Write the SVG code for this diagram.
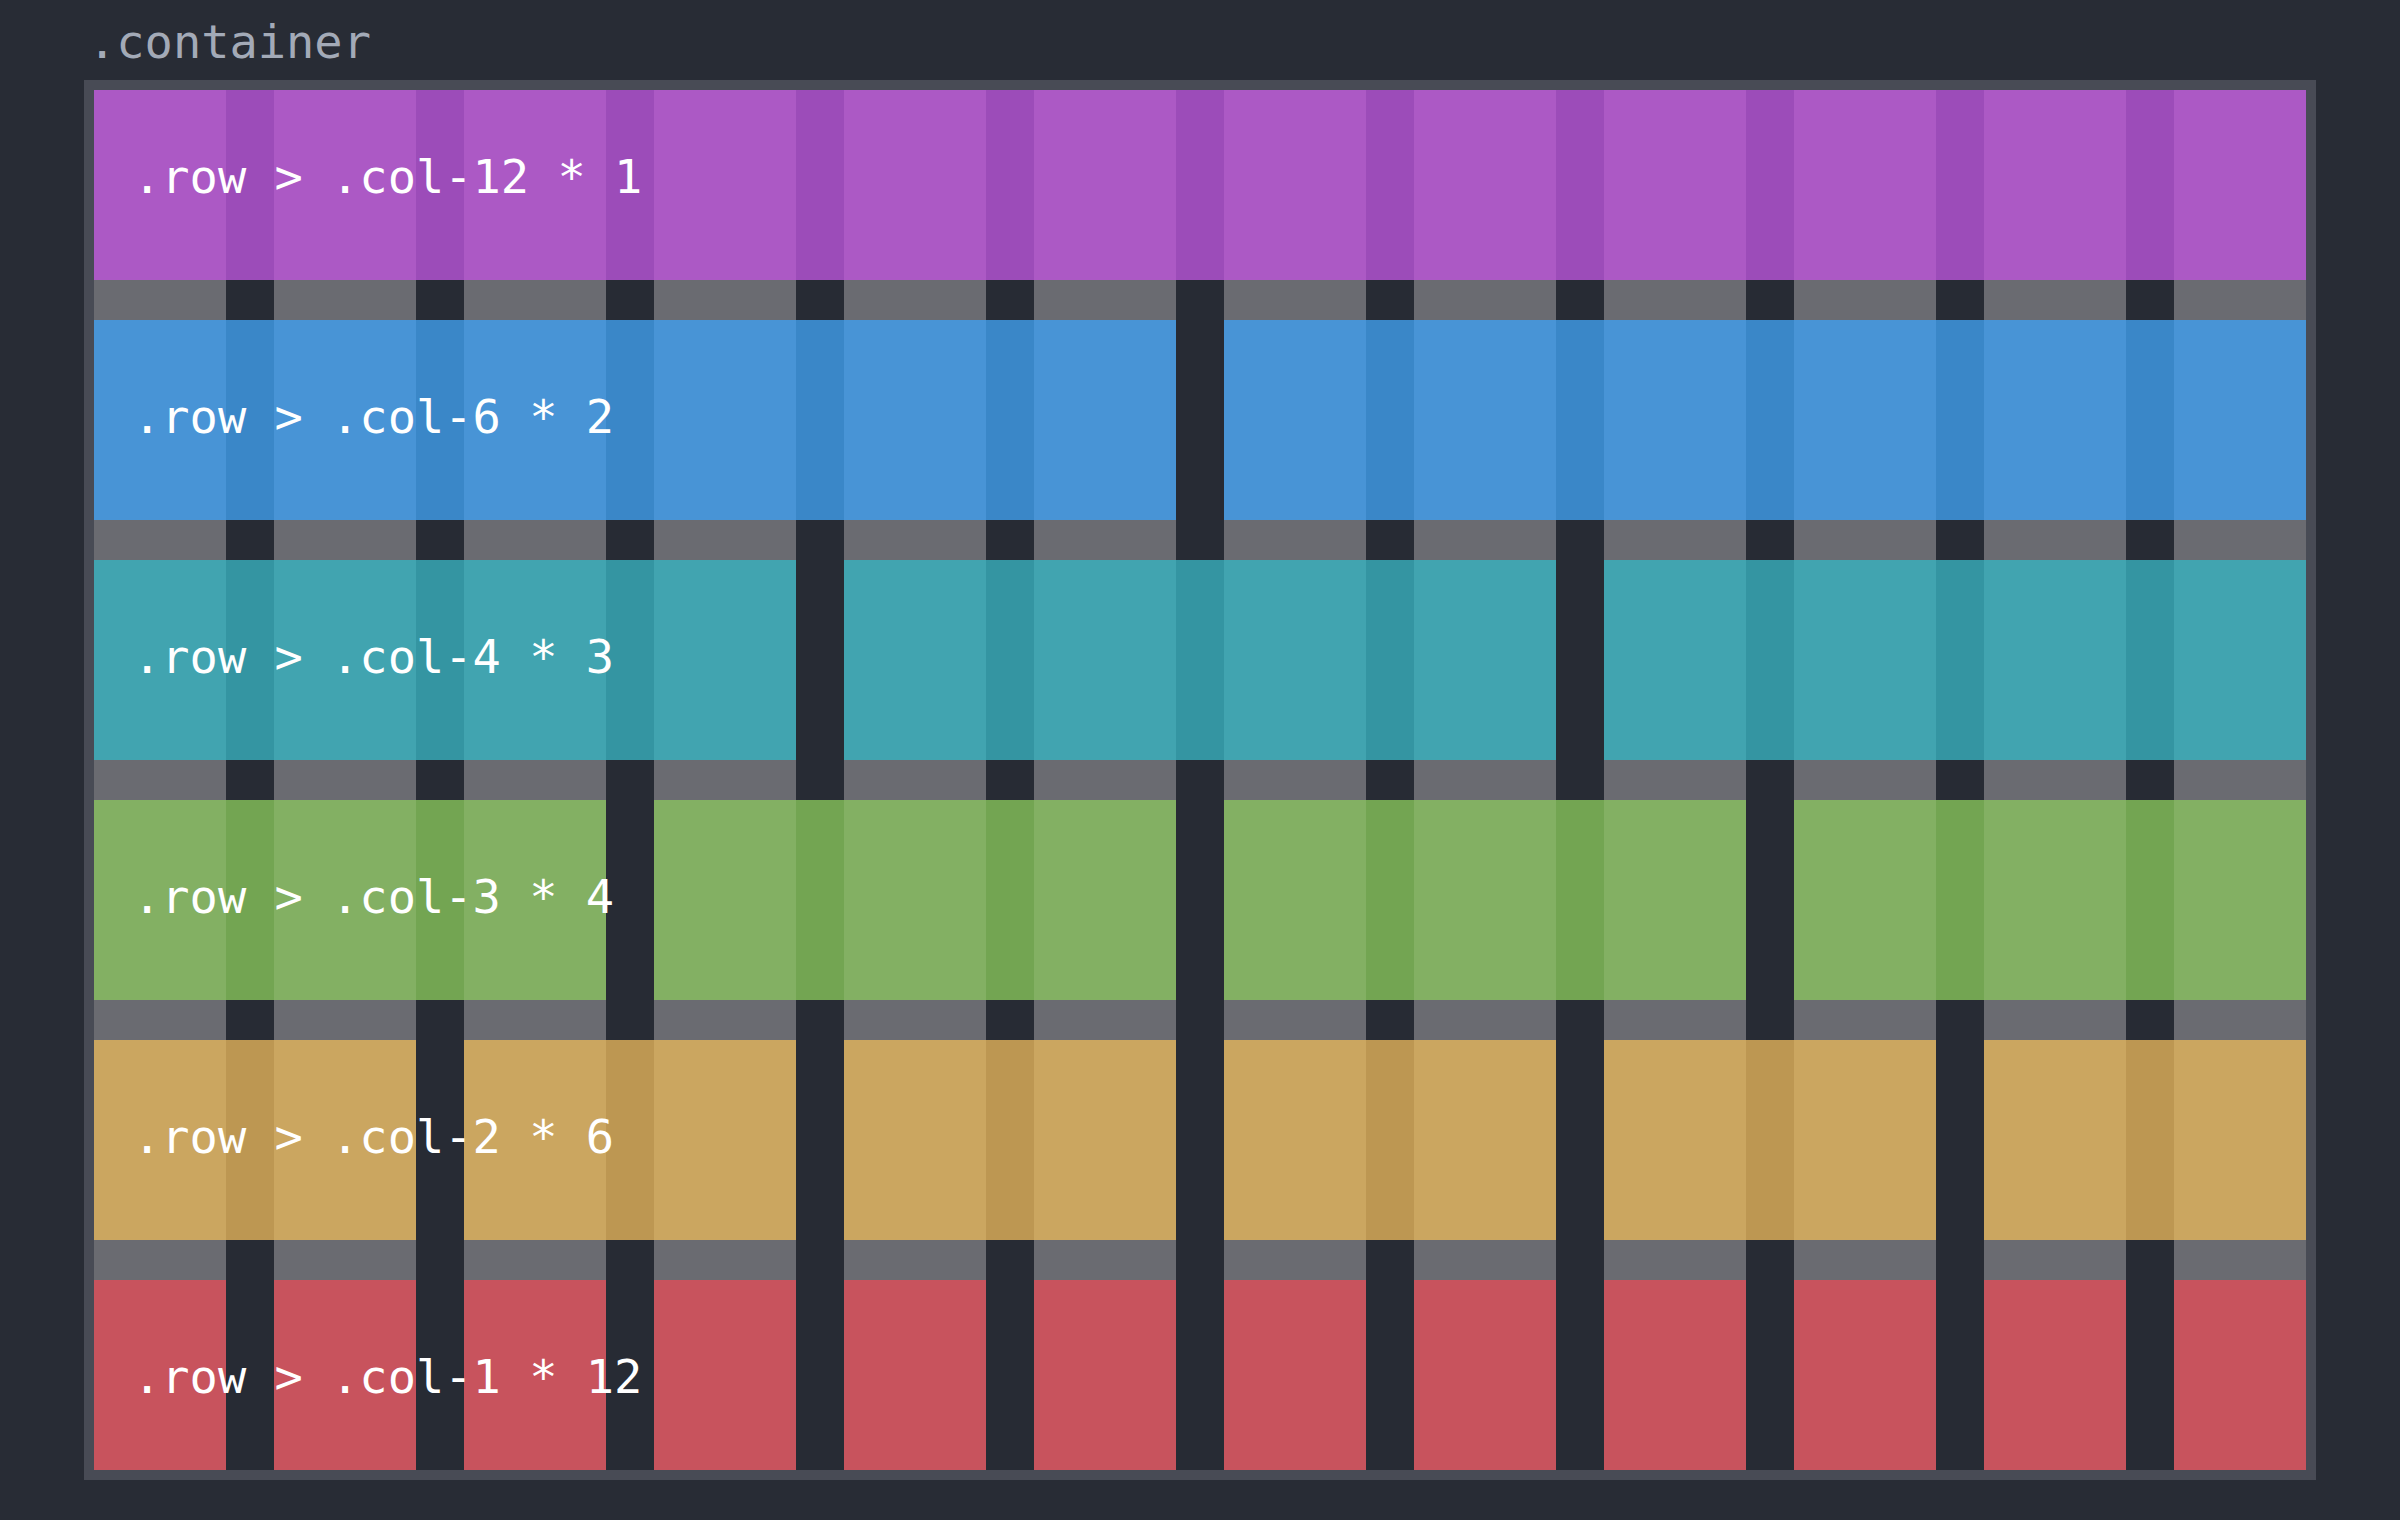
<svg xmlns="http://www.w3.org/2000/svg" width="2400" height="1520" viewBox="0 0 2400 1520">
<style>
.lbl{font-family:"DejaVu Sans Mono","Liberation Mono",monospace;font-size:47px;fill:#ffffff}
.title{font-family:"DejaVu Sans Mono","Liberation Mono",monospace;font-size:47px;fill:#a3aab7}
.gut{fill:#272b34}
.r1{fill:#ac59c5}.r2{fill:#4894d6}.r3{fill:#41a4b0}.r4{fill:#83b063}.r5{fill:#cba660}.r6{fill:#c8535d}
</style>
<defs>
<pattern id="p1" patternUnits="userSpaceOnUse" x="226" y="0" width="190" height="10"><rect width="48" height="10" fill="#9c4cb9"/></pattern>
<pattern id="p2" patternUnits="userSpaceOnUse" x="226" y="0" width="190" height="10"><rect width="48" height="10" fill="#3a87c8"/></pattern>
<pattern id="p3" patternUnits="userSpaceOnUse" x="226" y="0" width="190" height="10"><rect width="48" height="10" fill="#3495a2"/></pattern>
<pattern id="p4" patternUnits="userSpaceOnUse" x="226" y="0" width="190" height="10"><rect width="48" height="10" fill="#73a552"/></pattern>
<pattern id="p5" patternUnits="userSpaceOnUse" x="226" y="0" width="190" height="10"><rect width="48" height="10" fill="#bd9752"/></pattern>
</defs>
<rect width="2400" height="1520" fill="#282c35"/>
<text class="title" x="88" y="58">.container</text>
<g id="container">
<rect x="84" y="80" width="2232" height="1400" fill="#484b55"/>
<rect x="94" y="90" width="2212" height="1380" fill="#6a6b71"/>
<g id="gutters">
<rect class="gut" x="226" y="90" width="48" height="1380"/>
<rect class="gut" x="416" y="90" width="48" height="1380"/>
<rect class="gut" x="606" y="90" width="48" height="1380"/>
<rect class="gut" x="796" y="90" width="48" height="1380"/>
<rect class="gut" x="986" y="90" width="48" height="1380"/>
<rect class="gut" x="1176" y="90" width="48" height="1380"/>
<rect class="gut" x="1366" y="90" width="48" height="1380"/>
<rect class="gut" x="1556" y="90" width="48" height="1380"/>
<rect class="gut" x="1746" y="90" width="48" height="1380"/>
<rect class="gut" x="1936" y="90" width="48" height="1380"/>
<rect class="gut" x="2126" y="90" width="48" height="1380"/>
</g>
</g>
<g id="row1">
<rect class="r1" x="94" y="90" width="2212" height="190"/>
<rect fill="url(#p1)" x="94" y="90" width="2212" height="190"/>
<text class="lbl" x="133" y="193" xml:space="preserve">.row &gt; .col-12 * 1</text>
</g>
<g id="row2">
<rect class="r2" x="94" y="320" width="1082" height="200"/>
<rect class="r2" x="1224" y="320" width="1082" height="200"/>
<rect fill="url(#p2)" x="94" y="320" width="1082" height="200"/>
<rect fill="url(#p2)" x="1224" y="320" width="1082" height="200"/>
<text class="lbl" x="133" y="433" xml:space="preserve">.row &gt; .col-6 * 2</text>
</g>
<g id="row3">
<rect class="r3" x="94" y="560" width="702" height="200"/>
<rect class="r3" x="844" y="560" width="712" height="200"/>
<rect class="r3" x="1604" y="560" width="702" height="200"/>
<rect fill="url(#p3)" x="94" y="560" width="702" height="200"/>
<rect fill="url(#p3)" x="844" y="560" width="712" height="200"/>
<rect fill="url(#p3)" x="1604" y="560" width="702" height="200"/>
<text class="lbl" x="133" y="673" xml:space="preserve">.row &gt; .col-4 * 3</text>
</g>
<g id="row4">
<rect class="r4" x="94" y="800" width="512" height="200"/>
<rect class="r4" x="654" y="800" width="522" height="200"/>
<rect class="r4" x="1224" y="800" width="522" height="200"/>
<rect class="r4" x="1794" y="800" width="512" height="200"/>
<rect fill="url(#p4)" x="94" y="800" width="512" height="200"/>
<rect fill="url(#p4)" x="654" y="800" width="522" height="200"/>
<rect fill="url(#p4)" x="1224" y="800" width="522" height="200"/>
<rect fill="url(#p4)" x="1794" y="800" width="512" height="200"/>
<text class="lbl" x="133" y="913" xml:space="preserve">.row &gt; .col-3 * 4</text>
</g>
<g id="row5">
<rect class="r5" x="94" y="1040" width="322" height="200"/>
<rect class="r5" x="464" y="1040" width="332" height="200"/>
<rect class="r5" x="844" y="1040" width="332" height="200"/>
<rect class="r5" x="1224" y="1040" width="332" height="200"/>
<rect class="r5" x="1604" y="1040" width="332" height="200"/>
<rect class="r5" x="1984" y="1040" width="322" height="200"/>
<rect fill="url(#p5)" x="94" y="1040" width="322" height="200"/>
<rect fill="url(#p5)" x="464" y="1040" width="332" height="200"/>
<rect fill="url(#p5)" x="844" y="1040" width="332" height="200"/>
<rect fill="url(#p5)" x="1224" y="1040" width="332" height="200"/>
<rect fill="url(#p5)" x="1604" y="1040" width="332" height="200"/>
<rect fill="url(#p5)" x="1984" y="1040" width="322" height="200"/>
<text class="lbl" x="133" y="1153" xml:space="preserve">.row &gt; .col-2 * 6</text>
</g>
<g id="row6">
<rect class="r6" x="94" y="1280" width="132" height="190"/>
<rect class="r6" x="274" y="1280" width="142" height="190"/>
<rect class="r6" x="464" y="1280" width="142" height="190"/>
<rect class="r6" x="654" y="1280" width="142" height="190"/>
<rect class="r6" x="844" y="1280" width="142" height="190"/>
<rect class="r6" x="1034" y="1280" width="142" height="190"/>
<rect class="r6" x="1224" y="1280" width="142" height="190"/>
<rect class="r6" x="1414" y="1280" width="142" height="190"/>
<rect class="r6" x="1604" y="1280" width="142" height="190"/>
<rect class="r6" x="1794" y="1280" width="142" height="190"/>
<rect class="r6" x="1984" y="1280" width="142" height="190"/>
<rect class="r6" x="2174" y="1280" width="132" height="190"/>
<text class="lbl" x="133" y="1393" xml:space="preserve">.row &gt; .col-1 * 12</text>
</g>
</svg>
